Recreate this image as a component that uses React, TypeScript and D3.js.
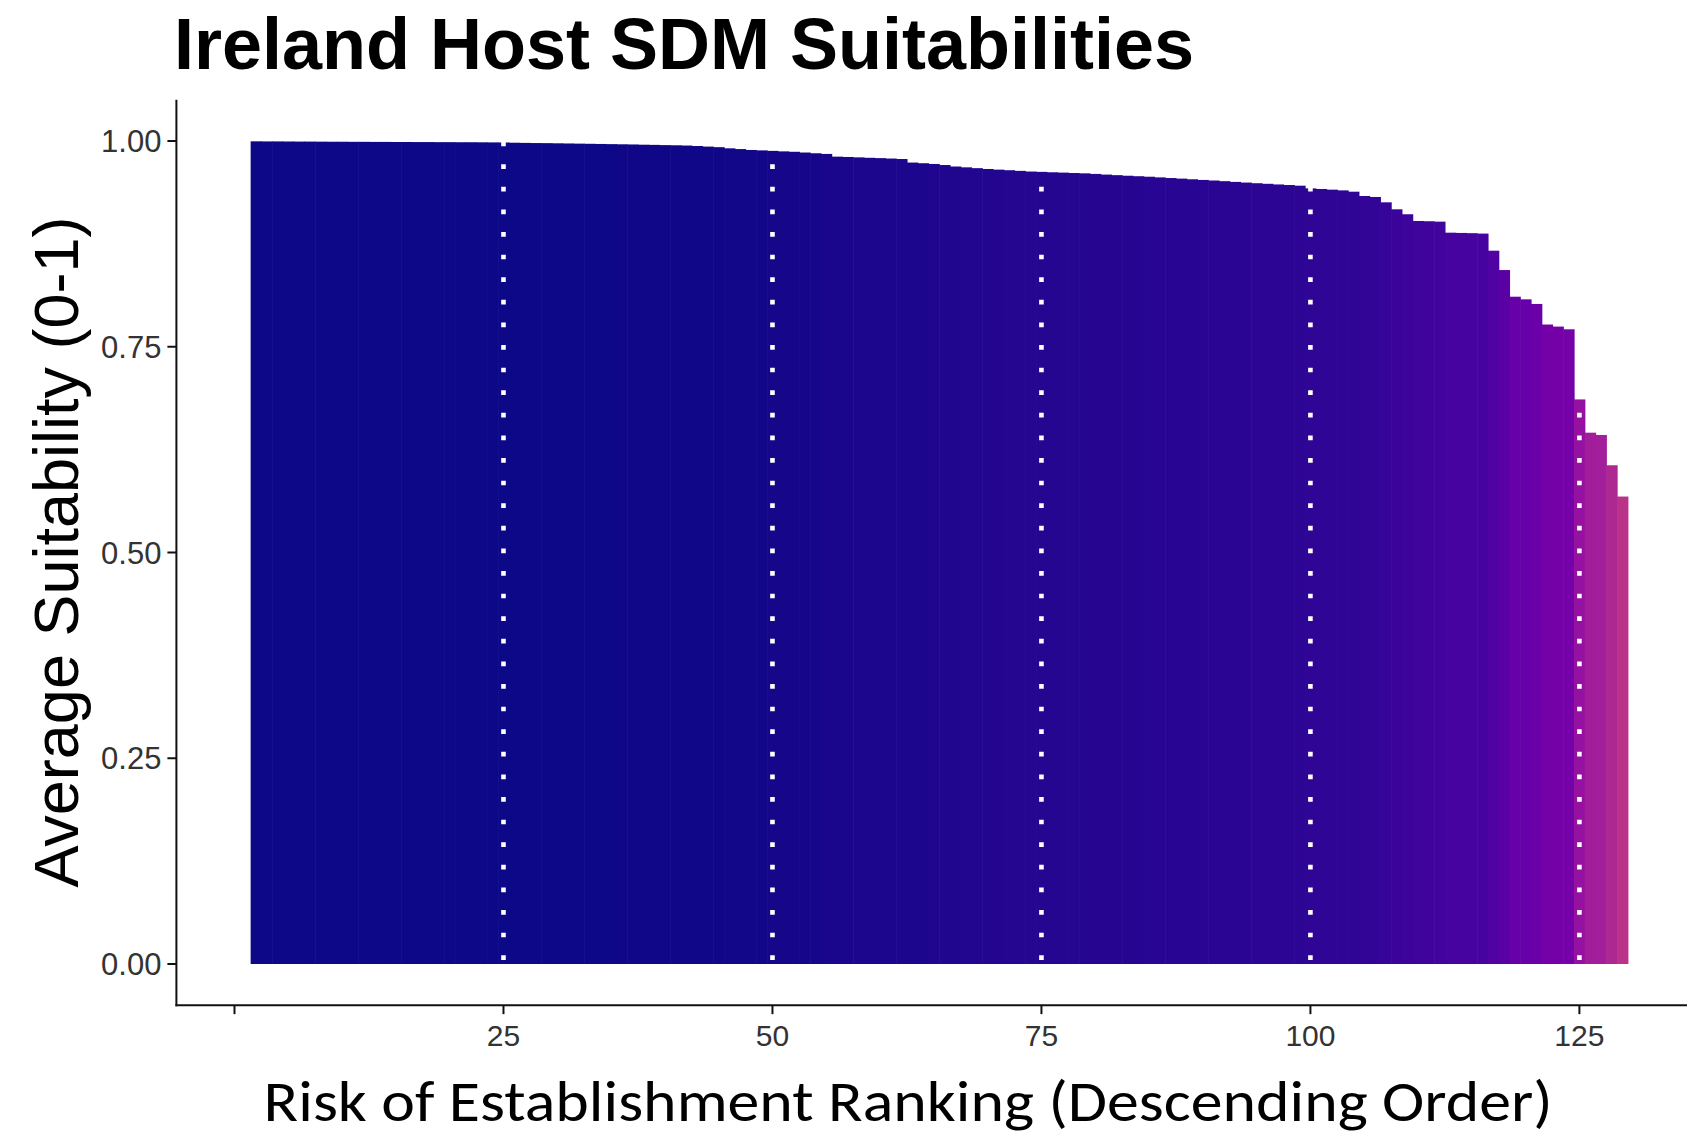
import * as d3 from 'd3';
import { useEffect, useRef } from 'react';

// average suitability per host, in ranking order (first bar sits at rank 2)
const firstRank = 2;
const suitability = [
    0.9996, 0.9995, 0.9995, 0.9994, 0.9993, 0.9993, 0.9992, 0.9991, 0.9991, 0.9990,
    0.9990, 0.9989, 0.9989, 0.9988, 0.9988, 0.9987, 0.9987, 0.9986, 0.9986, 0.9985,
    0.9985, 0.9984, 0.9983, 0.9982,
    0.9979, 0.9977, 0.9975, 0.9974, 0.9972, 0.9970, 0.9968, 0.9966, 0.9964, 0.9962,
    0.9960, 0.9958, 0.9955, 0.9953, 0.9950, 0.9948, 0.9945,
    0.9939, 0.9932, 0.9925, 0.9911, 0.9902,
    0.9891, 0.9886, 0.9880, 0.9874, 0.9869, 0.9860, 0.9851, 0.9843,
    0.9810, 0.9806, 0.9801, 0.9796, 0.9792, 0.9787, 0.9781,
    0.9738, 0.9730, 0.9721, 0.9708, 0.9690, 0.9680, 0.9670, 0.9660,
    0.9652, 0.9645, 0.9637, 0.9629, 0.9625, 0.9620, 0.9616, 0.9611, 0.9607,
    0.9600, 0.9592, 0.9585, 0.9578, 0.9572, 0.9566,
    0.9558, 0.9550, 0.9543, 0.9535, 0.9527, 0.9520, 0.9512, 0.9503, 0.9495, 0.9487,
    0.9480, 0.9472, 0.9465, 0.9457, 0.9424, 0.9417, 0.9409, 0.9400, 0.9384,
    0.9332, 0.9320, 0.9255, 0.9170, 0.9110, 0.9028, 0.9025, 0.9020,
    0.8886, 0.8883, 0.8880, 0.8875, 0.8667, 0.8432, 0.8108, 0.8076, 0.8020,
    0.7770, 0.7745, 0.7712, 0.6860, 0.6456, 0.6428, 0.6060, 0.5680,
];

const xTicks = [0, 25, 50, 75, 100, 125];
const xTickLabels = ['', '25', '50', '75', '100', '125'];
const yTicks = [0, 0.25, 0.5, 0.75, 1];
const refLines = [25, 50, 75, 100, 125];

const title = 'Ireland Host SDM Suitabilities';
const xTitle = 'Risk of Establishment Ranking (Descending Order)';
const yTitle = 'Average Suitability (0-1)';

export default function App() {
    const ref = useRef<SVGSVGElement | null>(null);

    useEffect(() => {
        const svg = d3.select(ref.current);
        svg.selectAll('*').remove();

        const width = 1687;
        const height = 1138;

        const x = d3.scaleLinear().domain([0, 125]).range([234.5, 1579.4]);
        const y = d3.scaleLinear().domain([0, 1]).range([964, 141]);
        const bw = x(1) - x(0);
        const left = 176.4;
        const top = y(1.05);
        const bottom = y(-0.05);

        svg.attr('width', width).attr('height', height);

        const data = suitability.map((v, i) => ({ rank: firstRank + i, v }));

        svg.append('g')
            .selectAll('rect')
            .data(data)
            .join('rect')
            .attr('x', d => x(d.rank - 0.5))
            .attr('width', bw + 0.6)
            .attr('y', d => y(d.v))
            .attr('height', d => y(0) - y(d.v))
            .attr('fill', d => d3.interpolatePlasma(1 - d.v));

        svg.append('g')
            .selectAll('line')
            .data(refLines)
            .join('line')
            .attr('x1', d => x(d))
            .attr('x2', d => x(d))
            .attr('y1', bottom)
            .attr('y2', top)
            .attr('stroke', '#fff')
            .attr('stroke-width', 4.6)
            .attr('stroke-dasharray', '4.7 17.9');

        // axes
        const axisColor = '#111';
        svg.append('line')
            .attr('x1', left).attr('x2', left)
            .attr('y1', top).attr('y2', bottom + 1)
            .attr('stroke', axisColor).attr('stroke-width', 2);
        svg.append('line')
            .attr('x1', left - 1).attr('x2', width)
            .attr('y1', bottom).attr('y2', bottom)
            .attr('stroke', axisColor).attr('stroke-width', 2);

        const yg = svg.append('g');
        yTicks.forEach(t => {
            yg.append('line')
                .attr('x1', left - 9).attr('x2', left)
                .attr('y1', y(t)).attr('y2', y(t))
                .attr('stroke', axisColor).attr('stroke-width', 2);
            yg.append('text')
                .attr('x', left - 15)
                .attr('y', y(t))
                .attr('dy', '0.36em')
                .attr('text-anchor', 'end')
                .attr('font-family', 'Liberation Sans, Arial, sans-serif')
                .attr('font-size', 31)
                .attr('fill', '#333')
                .text(d3.format('.2f')(t));
        });

        const xg = svg.append('g');
        xTicks.forEach((t, i) => {
            xg.append('line')
                .attr('x1', x(t)).attr('x2', x(t))
                .attr('y1', bottom).attr('y2', bottom + 9)
                .attr('stroke', axisColor).attr('stroke-width', 2);
            xg.append('text')
                .attr('x', x(t))
                .attr('y', 1046)
                .attr('text-anchor', 'middle')
                .attr('font-family', 'Liberation Sans, Arial, sans-serif')
                .attr('font-size', 30)
                .attr('fill', '#333')
                .text(xTickLabels[i]);
        });

        svg.append('text')
            .attr('x', 174)
            .attr('y', 69)
            .attr('font-family', 'Liberation Sans, Arial, sans-serif')
            .attr('font-weight', 'bold')
            .attr('font-size', 72)
            .attr('fill', '#000')
            .text(title);

        svg.append('text')
            .attr('transform', 'translate(77.5,552) rotate(-90)')
            .attr('text-anchor', 'middle')
            .attr('font-family', 'Liberation Sans, Arial, sans-serif')
            .attr('font-size', 63)
            .attr('fill', '#000')
            .text(yTitle);

        svg.append('text')
            .attr('x', 263.6)
            .attr('y', 1121)
            .attr('textLength', 1289)
            .attr('lengthAdjust', 'spacingAndGlyphs')
            .attr('font-family', 'Carlito, Lato, sans-serif')
            .attr('font-size', 57)
            .attr('fill', '#000')
            .text(xTitle);
    }, []);

    return <svg ref={ref} style={{ position: 'absolute', left: 0, top: 0, background: '#fff' }}></svg>;
}
